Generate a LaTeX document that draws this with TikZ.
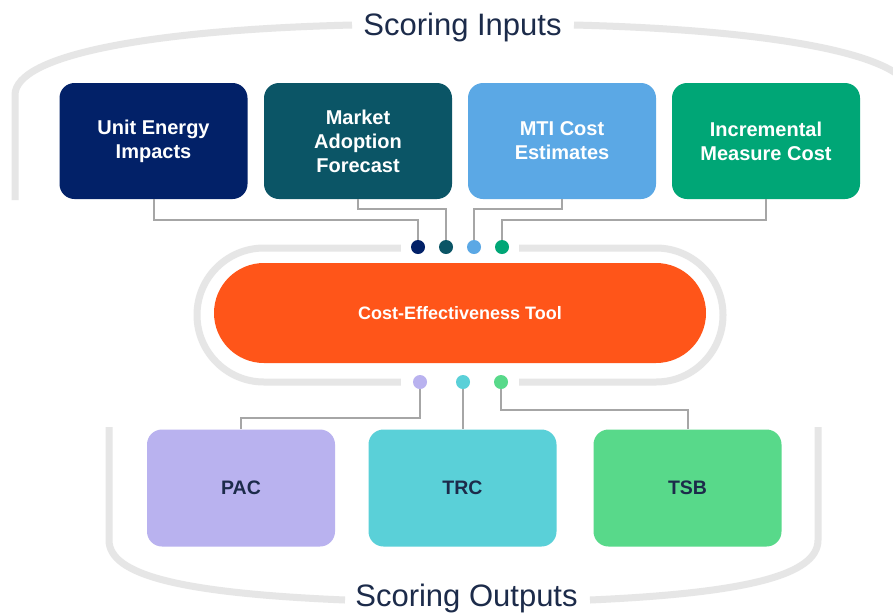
\documentclass[tikz,border=0pt]{standalone}
\usepackage{fontspec}
\setmainfont{Liberation Sans}
\definecolor{navytxt}{HTML}{1C2B4A}
\definecolor{cnavy}{HTML}{022168}
\definecolor{cteal}{HTML}{0B5566}
\definecolor{cblue}{HTML}{5BA8E5}
\definecolor{cgreen}{HTML}{00A676}
\definecolor{corange}{HTML}{FF5519}
\definecolor{clav}{HTML}{B9B2EF}
\definecolor{ccyan}{HTML}{5AD0D8}
\definecolor{cgreenb}{HTML}{58D98A}
\definecolor{ringgray}{HTML}{E6E6E6}
\definecolor{conngray}{HTML}{A6A6A6}
\begin{document}
\begin{tikzpicture}[x=1pt,y=-1pt,
  inbox/.style={rounded corners=15pt, minimum width=188pt, minimum height=116pt, text=white, font=\fontsize{20}{24}\selectfont\bfseries, align=center, inner sep=0pt},
  outbox/.style={rounded corners=15pt, minimum width=188pt, minimum height=117pt, text=navytxt, font=\fontsize{19.5}{23}\selectfont\bfseries, inner sep=0pt},
  jdot/.style={circle, minimum size=14pt, inner sep=0pt},
  conn/.style={draw=conngray, line width=2pt},
  ringline/.style={draw=ringgray, line width=7pt},
  ttl/.style={text=navytxt, font=\fontsize{31}{36}\selectfont, inner sep=0pt, anchor=base}
]
\useasboundingbox (0,0) rectangle (893,614);
\clip (0,0) rectangle (893,614);
\fill[white] (0,0) rectangle (893,614);

% outer brackets
\draw[ringline] (15,200) -- (15,95) .. controls (15,55) and (150,30) .. (352,25);
\draw[ringline] (911,200) -- (911,95) .. controls (911,55) and (776,30) .. (574,25);
\draw[ringline] (109,427) -- (109,540) .. controls (109,575) and (180,593) .. (345,600);
\draw[ringline] (818,427) -- (818,540) .. controls (818,575) and (747,593) .. (590,600);

\node[ttl] (tin) at (462.5,35) {Scoring Inputs};
\node[ttl] (tout) at (466.5,606) {Scoring Outputs};

% ring around tool
\draw[ringline, rounded corners=67pt] (197,248) rectangle (723,382);
\fill[white] (401,243) rectangle (519,254);
\fill[white] (401,376) rectangle (519,388);

% input boxes
\node[inbox, fill=cnavy] (b1) at (153.5,141) {Unit Energy\\Impacts};
\node[inbox, fill=cteal] (b2) at (358,141) {Market\\Adoption\\Forecast};
\node[inbox, fill=cblue] (b3) at (562,141) {MTI Cost\\Estimates};
\node[inbox, fill=cgreen] (b4) at (766,141) {Incremental\\Measure Cost};

% tool
\node[fill=corange, rounded corners=50pt, minimum width=492pt, minimum height=100pt, text=white, font=\fontsize{18}{21}\selectfont\bfseries] (tool) at (460,313) {Cost-Effectiveness Tool};

% dots
\node[jdot, fill=cnavy] (d1) at (418,247) {};
\node[jdot, fill=cteal] (d2) at (446,247) {};
\node[jdot, fill=cblue] (d3) at (474,247) {};
\node[jdot, fill=cgreen] (d4) at (502,247) {};
\node[jdot, fill=clav] (e1) at (420,382) {};
\node[jdot, fill=ccyan] (e2) at (463,382) {};
\node[jdot, fill=cgreenb] (e3) at (501,382) {};

% output boxes
\node[outbox, fill=clav] (p1) at (241,488) {PAC};
\node[outbox, fill=ccyan] (p2) at (462.5,488) {TRC};
\node[outbox, fill=cgreenb] (p3) at (687.5,488) {TSB};

% connectors
\draw[conn] (b1.south) -- ++(0,21) -| (d1.north);
\draw[conn] (b2.south) -- ++(0,10) -| (d2.north);
\draw[conn] (b3.south) -- ++(0,10) -| (d3.north);
\draw[conn] (b4.south) -- ++(0,21) -| (d4.north);
\draw[conn] (e1.south) -- ++(0,29) -| (p1.north);
\draw[conn] (e2.south) -- (e2.south |- p2.north);
\draw[conn] (e3.south) -- ++(0,21) -| (p3.north);
\end{tikzpicture}
\end{document}
